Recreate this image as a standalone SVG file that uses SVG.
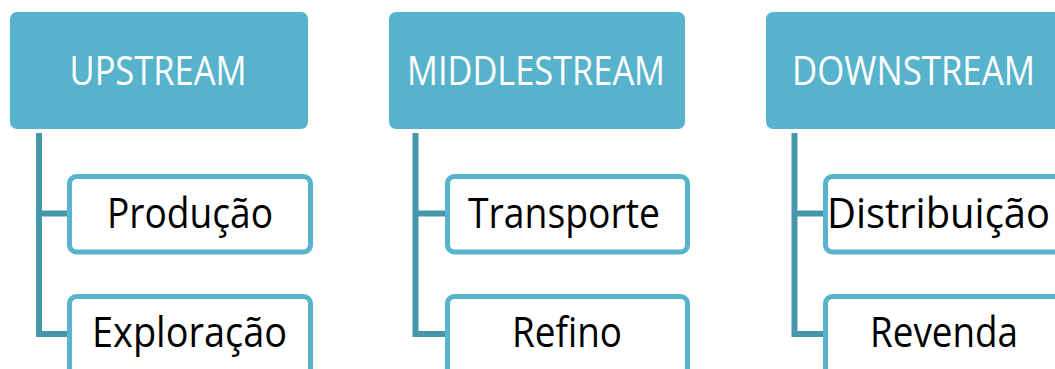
<svg xmlns="http://www.w3.org/2000/svg" width="1055" height="369" viewBox="0 0 1055 369">
<style>
.hdr{fill:#57b3cc}
.hdr-t{font-family:"Open Sans","Noto Sans",sans-serif;font-size:41px;fill:#ffffff;text-anchor:middle}
.box{fill:#ffffff;stroke:#58b4cc;stroke-width:5}
.box-t{font-family:"Open Sans","Noto Sans",sans-serif;font-size:42px;fill:#000000;text-anchor:middle}
.conn{fill:none;stroke:#4797aa;stroke-width:6;stroke-linejoin:miter}
</style>
<rect width="1055" height="369" fill="#ffffff"/>
<g id="connectors">
<path class="conn" d="M39,133 V334 H68 M39,213.5 H68"/>
<path class="conn" d="M415.5,133 V334 H446 M415.5,213.5 H446"/>
<path class="conn" d="M794.5,133 V334 H824 M794.5,213.5 H824"/>
</g>
<g id="upstream">
<rect class="hdr" x="10" y="12" width="298" height="117" rx="7"/>
<text class="hdr-t" x="158" y="85" textLength="177" lengthAdjust="spacingAndGlyphs">UPSTREAM</text>
</g>
<g id="producao">
<rect class="box" x="69.5" y="176.5" width="241" height="75.5" rx="7"/>
<text class="box-t" x="190" y="228" textLength="166" lengthAdjust="spacingAndGlyphs">Produção</text>
</g>
<g id="exploracao">
<rect class="box" x="69.5" y="296.5" width="241" height="80" rx="7"/>
<text class="box-t" x="189.5" y="347" textLength="195" lengthAdjust="spacingAndGlyphs">Exploração</text>
</g>
<g id="middlestream">
<rect class="hdr" x="389" y="12" width="296" height="117" rx="7"/>
<text class="hdr-t" x="536" y="85" textLength="258" lengthAdjust="spacingAndGlyphs">MIDDLESTREAM</text>
</g>
<g id="transporte">
<rect class="box" x="447.5" y="176.5" width="240" height="75.5" rx="7"/>
<text class="box-t" x="564" y="228" textLength="192" lengthAdjust="spacingAndGlyphs">Transporte</text>
</g>
<g id="refino">
<rect class="box" x="447.5" y="296.5" width="240" height="80" rx="7"/>
<text class="box-t" x="567" y="347" textLength="110" lengthAdjust="spacingAndGlyphs">Refino</text>
</g>
<g id="downstream">
<rect class="hdr" x="766" y="12" width="298" height="117" rx="7"/>
<text class="hdr-t" x="913.5" y="85" textLength="243" lengthAdjust="spacingAndGlyphs">DOWNSTREAM</text>
</g>
<g id="distribuicao">
<rect class="box" x="825.5" y="176.5" width="241" height="75.5" rx="7"/>
<text class="box-t" x="938.5" y="228" textLength="223" lengthAdjust="spacingAndGlyphs">Distribuição</text>
</g>
<g id="revenda">
<rect class="box" x="825.5" y="296.5" width="241" height="80" rx="7"/>
<text class="box-t" x="944" y="347" textLength="148" lengthAdjust="spacingAndGlyphs">Revenda</text>
</g>
</svg>
